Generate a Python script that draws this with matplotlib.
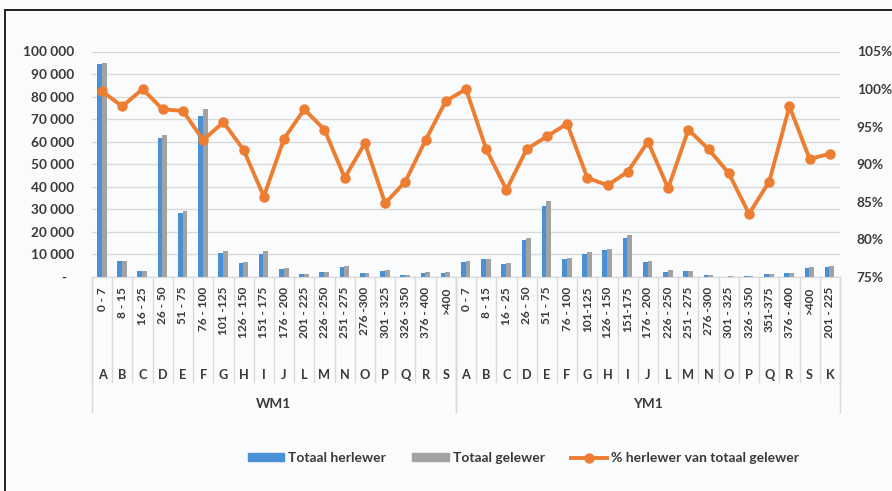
import matplotlib.pyplot as plt
import numpy as np
from matplotlib.lines import Line2D
from matplotlib.patches import Patch
from matplotlib.ticker import FuncFormatter, MultipleLocator
import matplotlib.transforms as mtransforms

plt.rcParams['font.family'] = ['Lato', 'DejaVu Sans']

# Data: two groups (WM1, YM1), categories and weight ranges
wm1_codes = ['A', 'B', 'C', 'D', 'E', 'F', 'G', 'H', 'I', 'J', 'L', 'M', 'N', 'O', 'P', 'Q', 'R', 'S']
wm1_ranges = ['0 - 7', '8 - 15', '16 - 25', '26 - 50', '51 - 75', '76 - 100', '101 -125', '126 - 150',
              '151 - 175', '176 - 200', '201 - 225', '226 - 250', '251 - 275', '276 -300', '301 - 325',
              '326 - 350', '376 - 400', '>400']
ym1_codes = ['A', 'B', 'C', 'D', 'E', 'F', 'G', 'H', 'I', 'J', 'L', 'M', 'N', 'O', 'P', 'Q', 'R', 'S', 'K']
ym1_ranges = ['0 - 7', '8 - 15', '16 - 25', '26 - 50', '51 - 75', '76 - 100', '101-125', '126 - 150',
              '151-175', '176 - 200', '226 - 250', '251 - 275', '276 -300', '301 - 325', '326 - 350',
              '351-375', '376 - 400', '>400', '201 - 225']

wm1_herlewer = [94500, 7100, 2700, 61600, 28300, 71600, 10800, 6400, 10400, 3700, 1200, 2200, 4400, 1600,
                2700, 900, 1900, 1900]
wm1_gelewer = [95000, 7300, 2800, 63000, 29300, 74500, 11600, 6700, 11600, 4000, 1300, 2300, 4800, 1700,
               2900, 1000, 2000, 2000]
ym1_herlewer = [6800, 7900, 5600, 16400, 31600, 8200, 10400, 11800, 17500, 6800, 2200, 2700, 900, 200, 400,
                1200, 1600, 4100, 4600]
ym1_gelewer = [7000, 8100, 6000, 17500, 33800, 8300, 11000, 12600, 18700, 7000, 3100, 2800, 1000, 300, 500,
               1300, 1800, 4300, 4800]

wm1_pct = [99.7, 97.7, 100.0, 97.3, 97.1, 93.2, 95.6, 91.9, 85.7, 93.4, 97.3, 94.6, 88.2, 92.8, 84.8, 87.7,
           93.2, 98.4]
ym1_pct = [100.0, 92.0, 86.6, 92.0, 93.7, 95.4, 88.2, 87.2, 89.0, 93.0, 86.8, 94.6, 92.0, 88.8, 83.4, 87.7,
           97.7, 90.7, 91.4]

groups = [('WM1', wm1_codes), ('YM1', ym1_codes)]
codes = wm1_codes + ym1_codes
ranges = wm1_ranges + ym1_ranges
herlewer = np.array(wm1_herlewer + ym1_herlewer)
gelewer = np.array(wm1_gelewer + ym1_gelewer)
pct = np.array(wm1_pct + ym1_pct)

BG = '#FAFBFC'
BLUE = '#4A90D6'
GRAY = '#A2A2A2'
ORANGE = '#ED7D31'
GRID = '#D9D9D9'
TEXT = '#3A3A3A'

fig = plt.figure(figsize=(8.92, 4.91), dpi=100, facecolor=BG)
ax = fig.add_axes([92 / 892, 1 - 277 / 491, 748 / 892, 225.5 / 491])
ax.set_facecolor(BG)

n = len(codes)
x = np.arange(n)
w = 0.24
ax.bar(x - 0.13, herlewer, width=w, color=BLUE, zorder=2)
ax.bar(x + 0.10, gelewer, width=w, color=GRAY, zorder=2)

ax.set_xlim(-0.5, n - 0.5)
ax.set_ylim(0, 100000)
ax.yaxis.set_major_locator(MultipleLocator(10000))
ax.yaxis.set_major_formatter(FuncFormatter(
    lambda v, p: '-  ' if v == 0 else f'{int(v):,}'.replace(',', ' ')))
ax.grid(axis='y', color=GRID, linewidth=1, zorder=0)
ax.set_axisbelow(True)
for s in ['top', 'right', 'left']:
    ax.spines[s].set_visible(False)
ax.spines['bottom'].set_color(GRID)
ax.tick_params(axis='y', length=0, pad=13, labelsize=9.8, labelcolor=TEXT)
ax.tick_params(axis='x', length=0, labelbottom=False)
for lbl in ax.get_yticklabels():
    lbl.set_fontweight('bold')

# Percentage line on the secondary axis
ax2 = ax.twinx()
ax2.plot(x, pct, color=ORANGE, linewidth=2.8, marker='o', markersize=6.5, zorder=3)
ax2.set_ylim(75, 105)
ax2.yaxis.set_major_locator(MultipleLocator(5))
ax2.yaxis.set_major_formatter(FuncFormatter(lambda v, p: f'{v:.0f}%'))
ax2.tick_params(axis='y', length=0, pad=12, labelsize=9.8, labelcolor=TEXT)
for lbl in ax2.get_yticklabels():
    lbl.set_fontweight('bold')
for s in ['top', 'right', 'left', 'bottom']:
    ax2.spines[s].set_visible(False)

# Multi-level category axis: ranges, codes, group names
trans = mtransforms.blended_transform_factory(ax.transData, fig.transFigure)


def fy(py):
    return 1 - py / 491


for i in range(n):
    ax.text(i, fy(287), ranges[i], transform=trans, rotation=90, ha='center', va='top',
            fontsize=8.6, color=TEXT, fontweight='bold')
    ax.text(i, fy(375), codes[i], transform=trans, ha='center', va='center',
            fontsize=9.2, color=TEXT, fontweight='bold')

for i in range(n + 1):
    ax.add_line(Line2D([i - 0.5, i - 0.5], [fy(277), fy(382)], transform=trans, color=GRID,
                       linewidth=1, clip_on=False))

start = 0
for name, cl in groups:
    end = start + len(cl)
    for edge in (start, end):
        ax.add_line(Line2D([edge - 0.5, edge - 0.5], [fy(277), fy(412)], transform=trans,
                           color=GRID, linewidth=1, clip_on=False))
    ax.text((start + end - 1) / 2, fy(404), name, transform=trans, ha='center', va='center',
            fontsize=9.8, color=TEXT, fontweight='bold')
    start = end

# Legend
handles = [Patch(color=BLUE), Patch(color=GRAY),
           Line2D([], [], color=ORANGE, linewidth=2.8, marker='o', markersize=6.5)]
labels = ['Totaal herlewer', 'Totaal gelewer', '% herlewer van totaal gelewer']
leg = fig.legend(handles, labels, loc='center', bbox_to_anchor=(0.587, fy(458)), ncol=3,
                 frameon=False, handlelength=2.6, handleheight=0.5, handletextpad=0.3,
                 columnspacing=1.9, prop={'size': 10, 'weight': 'bold'})
for t in leg.get_texts():
    t.set_color(TEXT)

# Outer frame (top and left edges)
fig.add_artist(Line2D([5 / 892, 1], [fy(10), fy(10)], transform=fig.transFigure, color='#222222',
                      linewidth=1.4))
fig.add_artist(Line2D([5 / 892, 5 / 892], [fy(10), 0], transform=fig.transFigure, color='#222222',
                      linewidth=1.4))

fig.savefig('out.png', dpi=100, facecolor=BG)
